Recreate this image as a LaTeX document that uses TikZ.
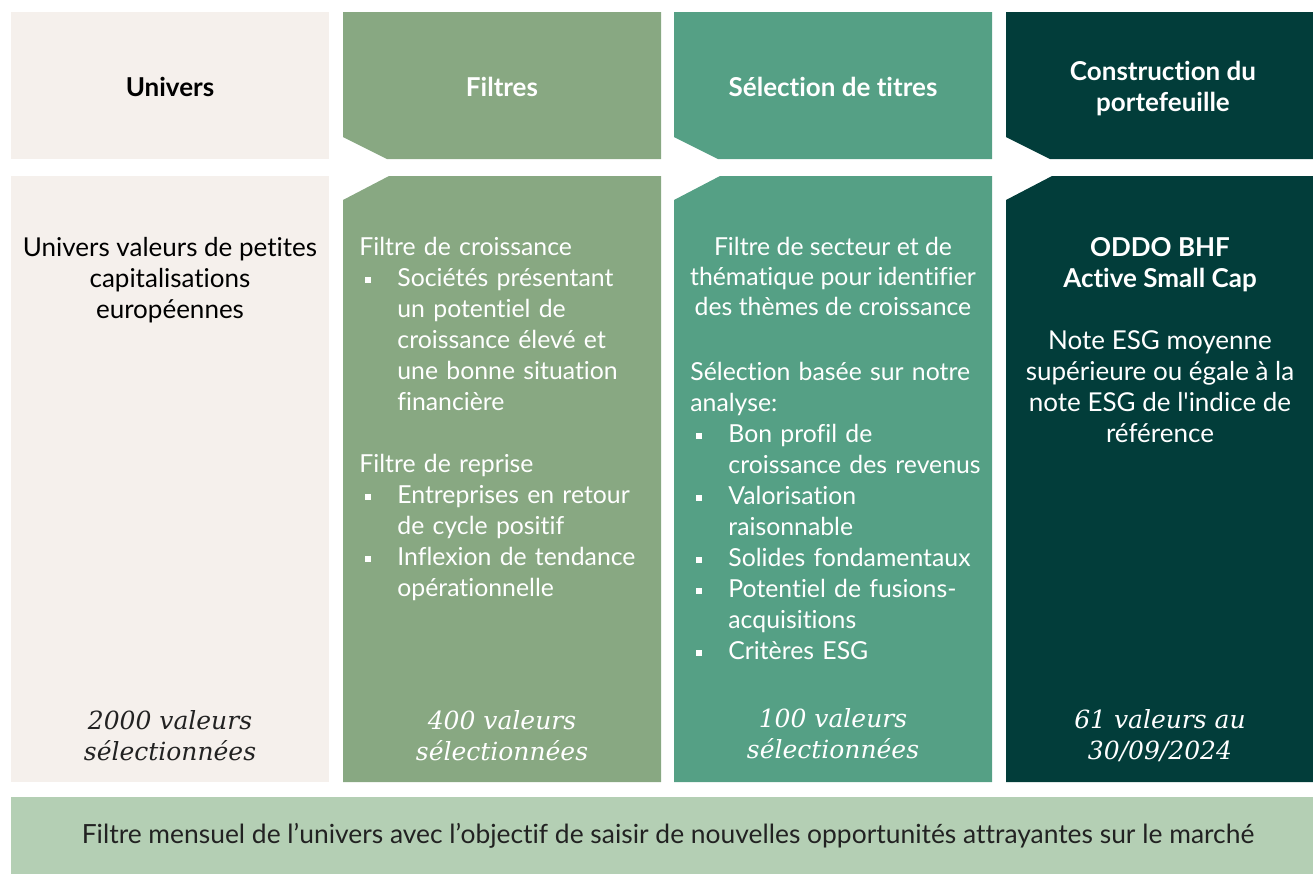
\documentclass[tikz,border=0pt]{standalone}
\usepackage{fontspec}
\setmainfont{Lato}[Ligatures=NoCommon]
\newfontfamily\droite{Lato}
\newfontfamily\countfont{DejaVu Serif}

\definecolor{univers}{HTML}{F5F0EC}
\definecolor{filtres}{HTML}{88A882}
\definecolor{selection}{HTML}{55A085}
\definecolor{construction}{HTML}{023D3A}
\definecolor{bande}{HTML}{B4CFB4}
\definecolor{encre}{HTML}{222222}

% square bullet with hanging indent
\newcommand{\puce}[1]{\par\noindent\hangindent=19pt\hangafter=1%
  \makebox[19pt][l]{\hspace{3pt}\raisebox{0.3ex}{\rule{3pt}{3pt}}}{\let\\\newline #1}}

\begin{document}
\begin{tikzpicture}
        [x=0.5pt, y=-0.5pt,
        txt/.style={inner sep=0pt, font=\fontsize{13pt}{15.5pt}\selectfont},
        liste/.style={inner sep=0pt, text width=152pt, align=left, white, font=\fontsize{12.4pt}{15.5pt}\selectfont},
        head/.style={inner sep=0pt, align=center, font=\fontsize{13pt}{15.5pt}\selectfont\bfseries},
        count/.style={inner sep=0pt, align=center, font=\fontsize{12.5pt}{15.5pt}\countfont\itshape}]

        \useasboundingbox (0,0) rectangle (1313,874);

        % first column (plain boxes)
        \fill[univers] (11,12) rectangle (329,159);
        \fill[univers] (11,176) rectangle (329,782);

        % notched columns
        \foreach \l/\r/\c in {343/661/filtres, 674/992/selection, 1006/1313/construction}{
          \fill[\c] (\l,12) -- (\r,12) -- (\r,159) -- (\l+44,159) -- (\l,137) -- cycle;
          \fill[\c] (\l,200) -- (\l+46,176) -- (\r,176) -- (\r,782) -- (\l,782) -- cycle;
        }

        % bottom band
        \fill[bande] (11,797) rectangle (1313,874);

        % headers
        \node[head, text=black] (hunivers) at (170,87) {Univers};
        \node[head, white] (hfiltres) at (502,87) {Filtres};
        \node[head, white] (hselection) at (833,87) {Sélection de titres};
        \node[head, white] (hconstruction) at (1163,89) {Construction du\\portefeuille};

        % body texts
        \node[txt, align=center, anchor=north, text=black] (bunivers) at (170,237)
          {Univers valeurs de petites\\capitalisations\\européennes};

        \node[liste, anchor=north west] (bfiltres) at (359,237)
          {Filtre de croissance
           \puce{Sociétés présentant\\un potentiel de\\croissance élevé et\\une bonne situation\\financière}
           \par\vspace{15.5pt}\noindent Filtre de reprise
           \puce{Entreprises en retour\\de cycle positif}
           \puce{Inflexion de tendance\\opérationnelle}\par};

        \node[txt, align=center, anchor=north, white, font=\fontsize{12.4pt}{15pt}\selectfont] (bselection) at (833,237)
          {Filtre de secteur et de\\thématique pour identifier\\des thèmes de croissance};

        \node[liste, anchor=north west] (bcriteres) at (690,362)
          {Sélection basée sur notre\\analyse:
           \puce{Bon profil de\\croissance des revenus}
           \puce{Valorisation\\raisonnable}
           \puce{Solides fondamentaux}
           \puce{Potentiel de fusions-\\acquisitions}
           \puce{Critères ESG}\par};

        \node[txt, align=center, anchor=north, white] (bconstruction) at (1160,237)
          {\textbf{ODDO BHF}\\\textbf{Active Small Cap}\\[15.5pt]Note ESG moyenne\\supérieure ou égale à la\\note ESG de l{\droite'}indice de\\référence};

        % counts
        \node[count, text=encre] (cunivers) at (170,736) {2000 valeurs\\sélectionnées};
        \node[count, white] (cfiltres) at (502,736) {400 valeurs\\sélectionnées};
        \node[count, white] (cselection) at (833,734) {100 valeurs\\sélectionnées};
        \node[count, white] (cconstruction) at (1160,736) {61 valeurs au\\30/09/2024};

        % band text
        \node[txt, text=encre, font=\fontsize{13.2pt}{15.5pt}\selectfont] (bande) at (668,836)
          {Filtre mensuel de l’univers avec l’objectif de saisir de nouvelles opportunités attrayantes sur le marché};

    \end{tikzpicture}
\end{document}
